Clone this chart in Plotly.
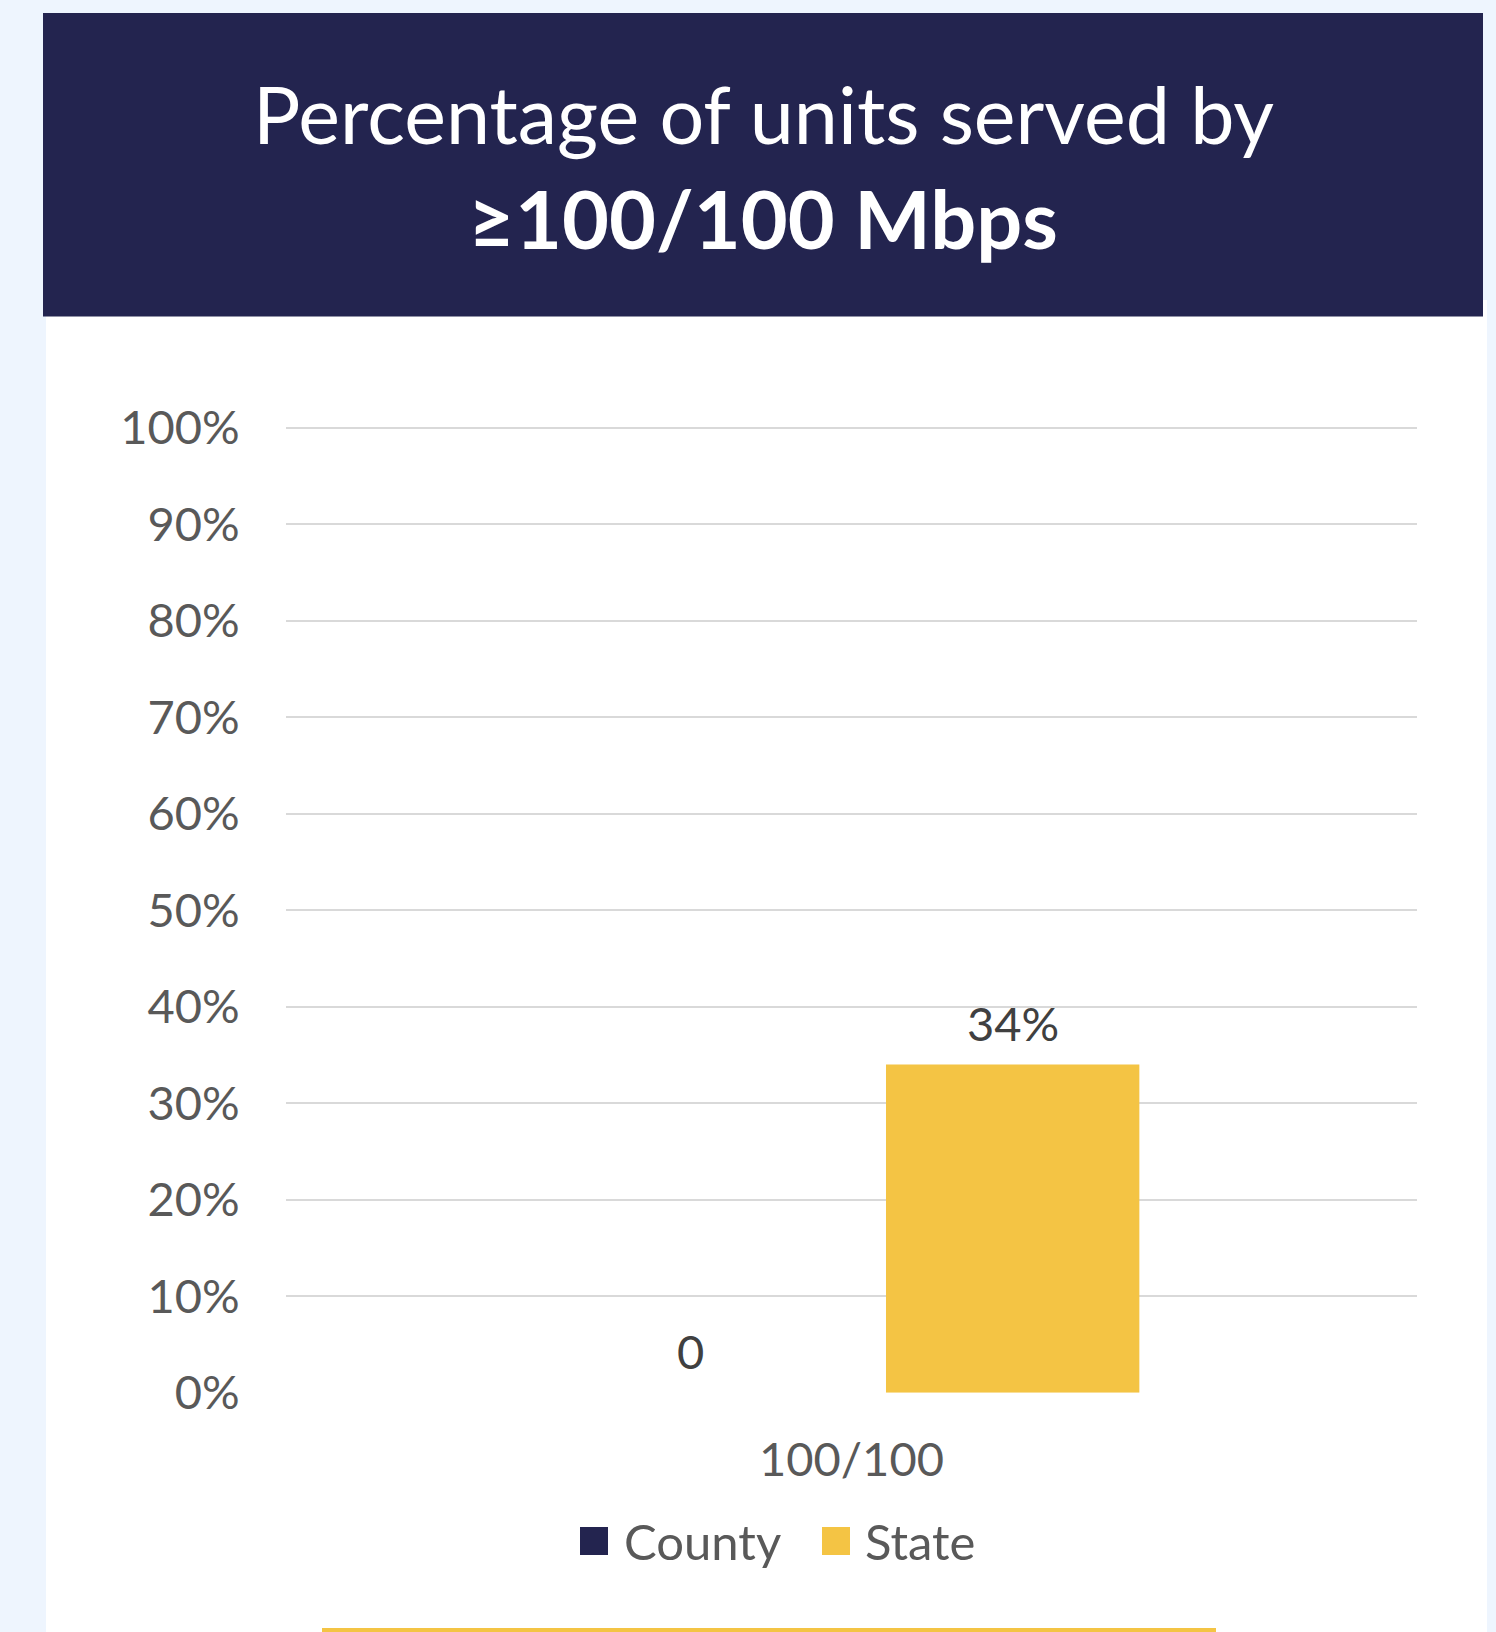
import plotly.graph_objects as go

# ---- data ----
categories = ["100/100"]
series_names = ["County", "State"]
county_values = [0.0]
state_values = [0.34]
county_labels = ["0"]
state_labels = ["34%"]
title_line1 = "Percentage of units served by"
title_line2 = "≥100/100 Mbps"

W = 1496
REF_H = 1632          # layout measured in reference pixels
H_FIG = 1658          # figure height (compensates the vertical fit of the capture)
NAVY = "#23244F"
GOLD = "#F4C444"
PAGE_BG = "#EEF5FE"
FONT = "Lato"
BARGAP = 0.43
BARGROUPGAP = 0.214

def px(x):
    return x / W

def py(y):
    return 1 - y / REF_H

x_dom = [px(286), px(1417)]
plot_w = (x_dom[1] - x_dom[0]) * W
slot_px = plot_w * (1 - BARGAP) / 2
bar_offsets = [-slot_px / 2, slot_px / 2]

fig = go.Figure()
fig.add_trace(go.Bar(
    name=series_names[0], x=categories, y=county_values,
    marker=dict(color=NAVY, line=dict(width=0)),
    showlegend=False, hoverinfo="skip",
))
fig.add_trace(go.Bar(
    name=series_names[1], x=categories, y=state_values,
    marker=dict(color=GOLD, line=dict(width=0)),
    showlegend=False, hoverinfo="skip",
))

# 0% at y=1392.7px, 10% step = 96.5px (reference pixels)
y0_px = 1392.7
top_val = 1.05
top_px = y0_px - 965 * top_val

shapes = [
    dict(type="rect", xref="paper", yref="paper", x0=px(46), x1=px(1487), y0=0, y1=py(300),
         fillcolor="white", line=dict(width=0), layer="below"),
    dict(type="rect", xref="paper", yref="paper", x0=px(43), x1=px(1483), y0=py(316.5), y1=py(13),
         fillcolor=NAVY, line=dict(width=0), layer="below"),
    dict(type="rect", xref="paper", yref="paper", x0=px(322), x1=px(1216), y0=0, y1=py(1628),
         fillcolor=GOLD, line=dict(width=0), layer="below"),
]

annotations = [
    dict(text=title_line1, xref="paper", yref="paper", x=px(763), y=py(114),
         xanchor="center", yanchor="middle", showarrow=False,
         font=dict(family=FONT, size=79, color="white")),
    dict(text="<b>" + title_line2 + "</b>", xref="paper", yref="paper", x=px(763), y=py(218),
         xanchor="center", yanchor="middle", showarrow=False,
         font=dict(family=FONT, size=81, color="white")),
]

for vals, labs, off in [(county_values, county_labels, bar_offsets[0]),
                        (state_values, state_labels, bar_offsets[1])]:
    for c, v, t in zip(categories, vals, labs):
        annotations.append(dict(text=t, xref="x", yref="y", x=c, y=v,
                                xshift=off, yshift=12, xanchor="center", yanchor="bottom",
                                showarrow=False,
                                font=dict(family=FONT, size=47, color="#404040")))

legend_items = [
    (series_names[0], NAVY, 580, 622),
    (series_names[1], GOLD, 822, 863),
]
for name, col, sx, tx in legend_items:
    shapes.append(dict(type="rect", xref="paper", yref="paper",
                       x0=px(sx), x1=px(sx + 28), y0=py(1555), y1=py(1527),
                       fillcolor=col, line=dict(width=0)))
    annotations.append(dict(text=name, xref="paper", yref="paper", x=px(tx), y=py(1541),
                            xanchor="left", yanchor="middle", showarrow=False,
                            font=dict(family=FONT, size=49, color="#595959")))

fig.update_layout(
    width=W, height=H_FIG,
    margin=dict(l=0, r=0, t=0, b=0),
    paper_bgcolor=PAGE_BG,
    plot_bgcolor="rgba(0,0,0,0)",
    barmode="group",
    bargap=BARGAP,
    bargroupgap=BARGROUPGAP,
    showlegend=False,
    shapes=shapes,
    annotations=annotations,
    font=dict(family=FONT, color="#595959"),
    xaxis=dict(
        domain=x_dom,
        showgrid=False, zeroline=False, showline=False,
        ticks="outside", ticklen=26, tickcolor="rgba(0,0,0,0)",
        tickfont=dict(family=FONT, size=47, color="#595959"),
        fixedrange=True,
    ),
    yaxis=dict(
        domain=[py(y0_px), py(top_px)],
        range=[0, top_val],
        dtick=0.1, tick0=0,
        tickformat=".0%",
        showgrid=True, gridcolor="#D9D9D9", gridwidth=2,
        zeroline=False, showline=False,
        ticks="outside", ticklen=36, tickcolor="rgba(0,0,0,0)",
        tickfont=dict(family=FONT, size=47, color="#595959"),
        fixedrange=True,
    ),
)

fig.write_html(
    "out.html",
    config={"displayModeBar": False},
    post_script="document.documentElement.style.margin='0';document.body.style.margin='0';"
                "document.body.style.background='" + PAGE_BG + "';"
                "document.documentElement.style.overflow='hidden';",
)
